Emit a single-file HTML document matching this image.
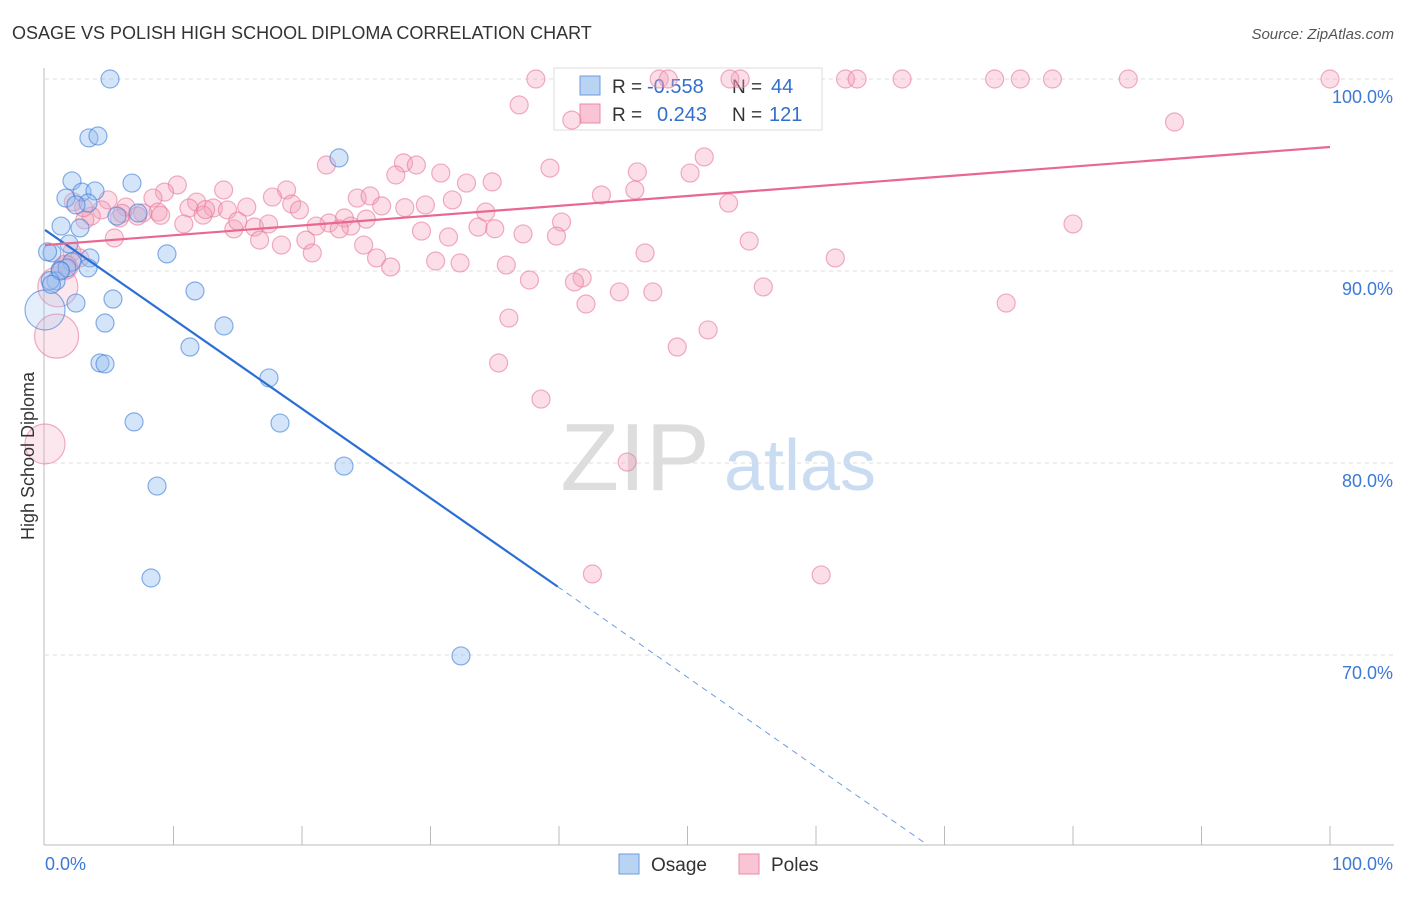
<!DOCTYPE html>
<html><head><meta charset="utf-8"><style>
body{margin:0;background:#fff;font-family:"Liberation Sans",sans-serif}
svg text{font-family:"Liberation Sans",sans-serif}
</style></head><body>
<svg id="chart" width="1406" height="892" xmlns="http://www.w3.org/2000/svg">
<text x="12" y="39" font-size="18" fill="#333">OSAGE VS POLISH HIGH SCHOOL DIPLOMA CORRELATION CHART</text>
<text x="1394" y="39" font-size="15" fill="#555" text-anchor="end" font-style="italic">Source: ZipAtlas.com</text>
<g>
<text x="635" y="490" font-size="96" fill="#ddd" text-anchor="middle" font-family="Liberation Serif">ZIP</text>
<text x="800" y="490" font-size="72" fill="#c9dcf2" text-anchor="middle">atlas</text>
</g>
<g id="grid"></g>
<g id="axes"></g>
<g>
<rect x="554" y="68" width="268" height="62" fill="#fff" stroke="#ddd"/>
<rect x="580" y="76" width="20" height="19" fill="#b9d3f3" stroke="#6b9ee0"/>
<rect x="580" y="104" width="20" height="19" fill="#f9c5d4" stroke="#eb8aa8"/>
<text x="612" y="93" font-size="19" fill="#333">R = </text><text x="647" y="93" font-size="20" fill="#3370cc">-0.558</text>
<text x="732" y="93" font-size="19" fill="#333">N = </text><text x="771" y="93" font-size="20" fill="#3370cc">44</text>
<text x="612" y="121" font-size="19" fill="#333">R = </text><text x="657" y="121" font-size="20" fill="#3370cc">0.243</text>
<text x="732" y="121" font-size="19" fill="#333">N = </text><text x="769" y="121" font-size="20" fill="#3370cc">121</text>
</g>
<g id="marks"></g>
<g id="trends"></g>
<g>
<rect x="619" y="854" width="20" height="20" fill="#b9d3f3" stroke="#6b9ee0"/>
<text x="651" y="871" font-size="19" fill="#333">Osage</text>
<rect x="739" y="854" width="20" height="20" fill="#f9c5d4" stroke="#eb8aa8"/>
<text x="771" y="871" font-size="19" fill="#333">Poles</text>
</g>
<text transform="translate(34,456) rotate(-90)" font-size="18" fill="#333" text-anchor="middle">High School Diploma</text>
</svg>
<script>
const yTicks=[100,90,80,70];
const yTickLabels=["100.0%","90.0%","80.0%","70.0%"];
const xTickLabels=["0.0%","100.0%"];
const osageX=[5.06,3.42,4.12,22.88,2.10,6.77,2.88,3.89,1.63,3.35,2.41,5.60,7.24,1.25,2.72,1.87,0.54,3.50,9.49,2.10,1.17,1.71,3.35,0.86,2.41,11.67,5.29,0,4.67,13.93,11.28,4.28,4.67,17.43,6.93,18.29,23.27,8.72,8.25,32.37,0.4,0.2,1.2,0.5];
const osageY=[100,96.93,97.03,95.89,94.69,94.58,94.11,94.17,93.80,93.54,93.44,92.86,93.02,92.34,92.24,91.41,90.94,90.68,90.89,90.47,90.05,90.16,90.16,89.48,88.33,88.96,88.54,87.97,87.29,87.14,86.04,85.21,85.16,84.43,82.14,82.08,79.84,78.80,74.01,69.95,89.5,91.0,90.0,89.3];
const osageR=[9,9,9,9,9,9,9,9,9,9,9,9,9,9,9,9,9,9,9,9,9,9,9,9,9,9,9,20,9,9,9,9,9,9,9,9,9,9,9,9,9,9,9,9];
const polesX=[38.2,47.8,48.5,54.1,62.3,63.2,66.7,73.9,75.9,78.4,84.3,100,53.3,36.9,41.0,87.9,51.3,21.9,39.3,27.9,28.9,46.1,30.8,27.3,50.2,32.8,34.8,10.3,13.9,9.3,18.8,45.9,43.3,17.7,24.3,25.3,4.9,8.4,11.8,19.2,31.7,29.6,53.2,26.2,13.1,6.3,11.2,15.7,19.8,4.4,8.8,34.3,7.6,14.2,3.6,5.8,7.2,3.1,12.3,23.3,40.2,22.1,80.0,23.8,21.1,16.3,33.7,10.8,17.4,14.7,22.9,29.3,37.2,39.8,31.4,5.4,16.7,20.3,54.8,24.8,18.4,20.8,46.7,25.8,30.4,32.3,61.5,35.9,26.9,2.1,2.7,1.7,37.7,41.8,41.2,55.9,44.7,47.3,42.1,74.8,36.1,51.6,49.2,35.3,38.6,45.3,42.6,60.4,1.0,0.9,0,1.6,6.0,9.0,12.5,15.0,25.0,28.0,35.0,3.0,2.2];
const polesY=[100,100,100,100,100,100,100,100,100,100,100,100,100,98.65,97.86,97.76,95.94,95.52,95.36,95.63,95.52,95.16,95.10,95.00,95.10,94.58,94.64,94.48,94.22,94.11,94.22,94.22,93.96,93.85,93.80,93.91,93.70,93.80,93.59,93.49,93.70,93.44,93.54,93.39,93.28,93.33,93.28,93.33,93.18,93.18,93.07,93.07,93.02,93.18,92.86,92.76,92.86,92.66,92.91,92.76,92.55,92.50,92.45,92.34,92.34,92.29,92.29,92.45,92.45,92.19,92.19,92.08,91.93,91.82,91.77,91.72,91.61,91.61,91.56,91.35,91.35,90.94,90.94,90.68,90.52,90.42,90.68,90.31,90.21,90.99,90.68,90.31,89.53,89.64,89.43,89.17,88.91,88.91,88.28,88.33,87.55,86.93,86.04,85.21,83.33,80.05,74.22,74.17,89.17,86.61,80.99,90.2,93.0,92.9,93.2,92.6,92.7,93.3,92.2,93.3,93.6];
const polesR=[];for(let i=0;i<polesX.length;i++)polesR.push(9);
polesR[108]=20;polesR[109]=22;polesR[110]=20;polesR[111]=12;
const osageTrend=[[0,92.14],[39.9,73.56]];
const osageTrendDash=[[39.9,73.56],[68.7,60.1]];
const polesTrend=[[0,91.35],[100,96.46]];
const NS="http://www.w3.org/2000/svg";
const X0=45,X1=1330,Y100=79,PX10=192;
function sx(v){return X0+(X1-X0)*v/100;}
function sy(v){return Y100+(100-v)*PX10/10;}
function mk(t,a,parent){const e=document.createElementNS(NS,t);for(const k in a)e.setAttribute(k,a[k]);document.getElementById(parent).appendChild(e);return e;}
yTicks.forEach((t,i)=>{
 const l=mk('line',{x1:45,x2:1394,y1:sy(t),y2:sy(t),stroke:'#ddd','stroke-dasharray':'4,4'},'grid');
 
 
 const tx=mk('text',{x:1393,y:sy(t)+24,'font-size':18,fill:'#3d78d6','text-anchor':'end'},'axes');
 tx.textContent=yTickLabels[i];
 
 
});
const ax=mk('line',{x1:44,x2:44,y1:68,y2:845,stroke:'#bbb'},'axes');


const bx=mk('line',{x1:44,x2:1394,y1:845,y2:845,stroke:'#bbb'},'axes');


for(let i=1;i<=10;i++){const t=mk('line',{x1:sx(i*10),x2:sx(i*10),y1:826,y2:845,stroke:'#bbb'},'axes');
 
 }
const xl0=mk('text',{x:45,y:870,'font-size':18,fill:'#3d78d6'},'axes');xl0.textContent=xTickLabels[0];


const xl1=mk('text',{x:1393,y:870,'font-size':18,fill:'#3d78d6','text-anchor':'end'},'axes');xl1.textContent=xTickLabels[1];


polesX.forEach((x,i)=>{const c=mk('circle',{cx:sx(x),cy:sy(polesY[i]),r:polesR[i],fill:polesR[i]>12?'rgba(244,160,186,0.25)':'rgba(244,160,186,0.35)',stroke:'rgba(232,120,155,0.6)','stroke-width':1.2},'marks');
 
 });
osageX.forEach((x,i)=>{const c=mk('circle',{cx:sx(x),cy:sy(osageY[i]),r:osageR[i],fill:osageR[i]>12?'rgba(150,190,240,0.25)':'rgba(150,190,240,0.4)',stroke:'rgba(60,125,215,0.6)','stroke-width':1.2},'marks');
 
 });
function line(p,attrs,name){const l=mk('line',Object.assign({x1:sx(p[0][0]),y1:sy(p[0][1]),x2:sx(p[1][0]),y2:sy(p[1][1])},attrs),'trends');
 
 }
line(osageTrend,{stroke:'#2a6fd6','stroke-width':2.2},'osage-trend-line');
line(osageTrendDash,{stroke:'#6b9ee0','stroke-width':1,'stroke-dasharray':'6,5'},'osage-trend-extension');
line(polesTrend,{stroke:'#e8688f','stroke-width':2.2},'poles-trend-line');
</script>
</body></html>
